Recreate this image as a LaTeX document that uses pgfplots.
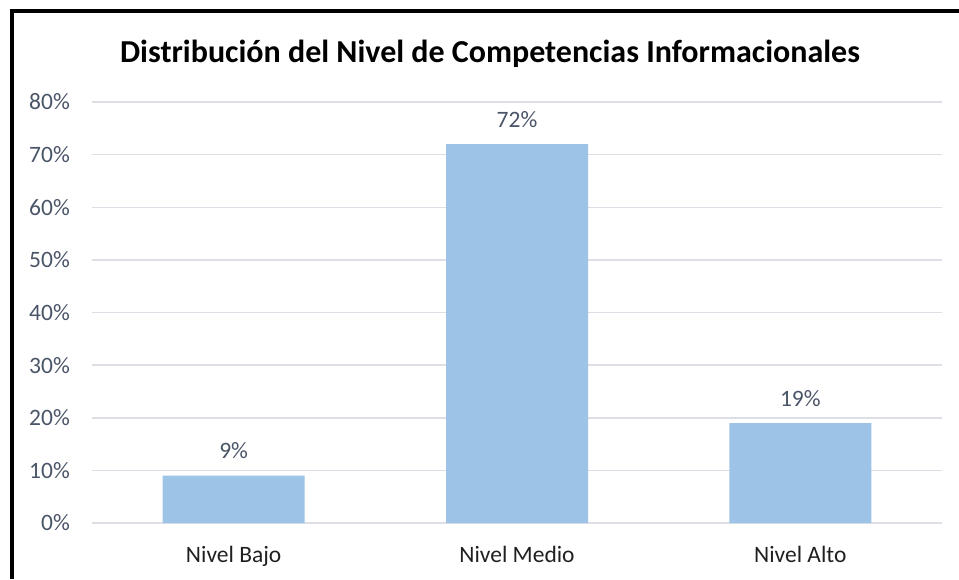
\documentclass[border=0pt]{standalone}
\usepackage{fontspec}
\setmainfont{Carlito}
\usepackage{pgfplots}
\pgfplotsset{compat=1.18}
\definecolor{barc}{HTML}{9DC3E6}
\definecolor{gridc}{HTML}{DCE0E6}
\definecolor{tickc}{HTML}{4A5568}
\definecolor{catc}{HTML}{202020}
\begin{document}
\begin{tikzpicture}[x=1pt,y=1pt]
\useasboundingbox (0,0) rectangle (959,579);
\draw[line width=4pt] (11.5,0) -- (11.5,567.7) -- (959,567.7);
\node[anchor=base, font=\fontsize{32}{38}\selectfont\bfseries] at (490,516) {Distribución del Nivel de Competencias Informacionales};
\begin{axis}[
  at={(92pt,56pt)}, anchor=south west,
  scale only axis, width=850pt, height=421pt,
  xmin=-0.5, xmax=2.5, ymin=0, ymax=80,
  ytick={0,10,...,80},
  yticklabel={\pgfmathprintnumber{\tick}\%},
  xtick=data,
  xticklabels={Nivel Bajo, Nivel Medio, Nivel Alto},
  axis line style={draw=none},
  major tick length=0pt,
  ymajorgrids, grid style={gridc, line width=1.5pt},
  /pgf/number format/assume math mode=true,
  yticklabel style={font=\fontsize{23.5}{28}\selectfont, color=tickc, inner sep=0pt, anchor=east, xshift=-22pt},
  xticklabel style={font=\fontsize{23.5}{28}\selectfont, color=catc, inner sep=0pt, anchor=base, yshift=-39pt},
  ybar, bar width=142pt,
  nodes near coords={\pgfmathprintnumber{\pgfplotspointmeta}\%},
  nodes near coords style={font=\fontsize{23.5}{28}\selectfont, color=tickc, inner sep=0pt, anchor=base, yshift=17pt},
  clip=false,
]
\addplot[fill=barc, draw=none] coordinates {(0,9) (1,72) (2,19)};
\end{axis}
\end{tikzpicture}
\end{document}
